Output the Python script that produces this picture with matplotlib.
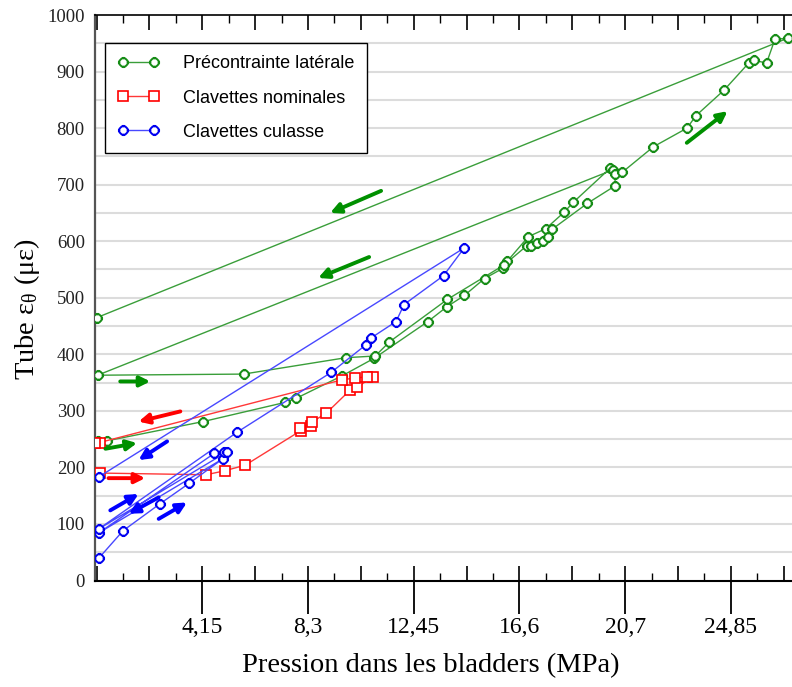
import numpy as np
import matplotlib
matplotlib.use('Agg')
import matplotlib.pyplot as plt
from matplotlib.path import Path
from matplotlib.ticker import MultipleLocator, NullFormatter

plt.rcParams['font.family'] = ['Liberation Serif', 'DejaVu Serif']
plt.rcParams['mathtext.fontset'] = 'custom'
plt.rcParams['mathtext.rm'] = 'Liberation Serif'
plt.rcParams['mathtext.it'] = 'Liberation Serif:italic'

# --- data (MPa, micro-strain) ---
# Précontrainte latérale : load from 250, unload to 363, reload, unload to 465
prec_x = [0.05, 0.41, 4.18, 7.41, 7.83, 9.64, 10.90, 13.01, 13.75, 14.44, 15.23,
          15.95, 16.13, 16.95, 17.63, 18.35, 18.72, 20.16, 20.26,
          0.04, 5.77, 9.79, 10.94, 11.50, 13.77, 16.00, 16.89, 17.05, 17.30,
          17.54, 17.74, 17.88, 19.27, 20.36, 20.35, 20.64, 21.86, 23.18, 23.53,
          24.63, 25.62, 25.81, 26.30, 26.63, 27.13, 0.02]
prec_y = [247, 247, 281, 315, 322, 362, 393, 458, 484, 504, 534,
          552, 565, 608, 622, 651, 669, 729, 726,
          363, 365, 394, 397, 422, 497, 558, 592, 592, 597,
          600, 608, 621, 667, 698, 719, 722, 767, 800, 822,
          867, 916, 920, 915, 957, 959, 465]

# Clavettes nominales
nom_x = [0.12, 4.30, 5.03, 5.84, 8.02, 8.00, 8.42, 8.45, 9.02, 9.96, 10.22,
         10.87, 10.61, 10.13, 9.65, 0.12, -0.05]
nom_y = [190, 187, 194, 204, 265, 270, 274, 280, 296, 337, 342,
         360, 360, 358, 355, 244, 244]

# Clavettes culasse
cul_x = [0.08, 1.04, 2.50, 3.64, 4.95, 0.08, 4.63, 5.01, 5.14, 0.08,
         5.51, 9.21, 10.58, 10.78, 11.76, 12.07, 13.62, 14.43, 0.08]
cul_y = [39, 88, 136, 172, 215, 84, 225, 227, 228, 91,
         262, 368, 417, 429, 458, 488, 539, 588, 183]

x_ticks = [4.15, 8.3, 12.45, 16.6, 20.75, 24.9]
x_labels = ['4,15', '8,3', '12,45', '16,6', '20,7', '24,85']

# direction arrows: (x_start, y_start, x_end, y_end, colour)
arrows = [
    (23.17, 774, 24.77, 830, 'green'),
    (11.17, 689, 9.17, 650, 'green'),
    (10.70, 572, 8.70, 535, 'green'),
    (0.93, 352, 2.11, 352, 'green'),
    (0.35, 233, 1.59, 243, 'green'),
    (3.29, 299, 1.65, 281, 'red'),
    (0.47, 181, 1.91, 181, 'red'),
    (2.77, 246, 1.65, 213, 'blue'),
    (0.54, 124, 1.65, 153, 'blue'),
    (2.44, 147, 1.26, 118, 'blue'),
    (2.44, 109, 3.55, 138, 'blue'),
]
arrow_colors = {'green': '#009000', 'red': '#ff0000', 'blue': '#0000ff'}

# octagon (flat sides on the axes) with four short spikes, like the original markers
ang = np.deg2rad(22.5 + 45*np.arange(9))
r = 0.8
octo = Path(np.column_stack([r*np.cos(ang), r*np.sin(ang)]), closed=True)
spikes = Path([(0, 0.74), (0, 1), (0, -0.74), (0, -1), (0.74, 0), (1, 0), (-0.74, 0), (-1, 0)],
              [Path.MOVETO, Path.LINETO] * 4)
sun = Path.make_compound_path(octo, spikes)

fig = plt.figure(figsize=(7.92, 6.87), dpi=100)
ax = fig.add_axes([94.5/792, 1-580.5/687, 1-94.5/792, (580.5-15)/687])

ax.set_xlim(-0.08, 27.3)
ax.set_ylim(0, 1000)

for y in range(50, 1000, 50):
    ax.axhline(y, color='#dcdcdc', lw=1.5, zorder=0)

ax.plot(prec_x, prec_y, color='#3a9e3a', lw=1.0, marker=sun, ms=8,
        mfc='white', mec='#168c16', mew=1.4, label='Précontrainte latérale', zorder=3)
ax.plot(nom_x, nom_y, color='#ff3838', lw=1.0, marker='s', ms=6.5,
        mfc='white', mec='#ff0000', mew=1.2, label='Clavettes nominales', zorder=3)
ax.plot(cul_x, cul_y, color='#4848ff', lw=1.0, marker=sun, ms=8,
        mfc='white', mec='#0000f0', mew=1.4, label='Clavettes culasse', zorder=3)

for x0, y0, x1, y1, c in arrows:
    ax.annotate('', xy=(x1, y1), xytext=(x0, y0),
                arrowprops=dict(arrowstyle='-|>', color=arrow_colors[c], lw=2.8,
                                mutation_scale=15, shrinkA=0, shrinkB=0), zorder=4)

# spines
ax.spines['right'].set_visible(False)
ax.spines['left'].set_color('#555555')
ax.spines['left'].set_linewidth(1.6)
ax.spines['bottom'].set_linewidth(1.5)
ax.spines['top'].set_linewidth(1.2)

# y axis
ax.set_yticks(range(0, 1001, 100))
ax.tick_params(axis='y', length=0, pad=7, labelsize=13.5, labelcolor='#222222')

# x axis: long ticks below at each label
ax.set_xticks(x_ticks)
ax.set_xticklabels(x_labels)
ax.tick_params(axis='x', direction='out', length=23.5, width=1.3, pad=3, labelsize=17)

# short inner ticks, bottom and top
for loc in ('bottom', 'top'):
    sec = ax.secondary_xaxis(loc)
    sec.xaxis.set_major_locator(MultipleLocator(2.075))
    sec.xaxis.set_minor_locator(MultipleLocator(1.0375))
    sec.xaxis.set_major_formatter(NullFormatter())
    sec.tick_params(which='major', direction='in', length=10.5, width=1.2)
    sec.tick_params(which='minor', direction='in', length=5.5, width=1.0)
    sec.spines[loc].set_visible(False)

ax.set_xlabel('Pression dans les bladders (MPa)', fontsize=20.5)
ax.xaxis.set_label_coords(0.482, -0.128)
ax.set_ylabel('Tube ε$_{\\mathrm{θ}}$ (με)', fontsize=20.5)
ax.yaxis.set_label_coords(-0.075, 0.48)

leg = ax.legend(loc='upper left', bbox_to_anchor=(0.015, 0.951), borderaxespad=0,
                prop={'family': 'Liberation Sans', 'size': 13}, frameon=True,
                fancybox=False, edgecolor='black', framealpha=1, numpoints=2,
                labelspacing=0.95, handlelength=2.3, handletextpad=1.3, borderpad=0.7)
leg.get_frame().set_linewidth(1.0)

plt.savefig('out.png', dpi=100)
